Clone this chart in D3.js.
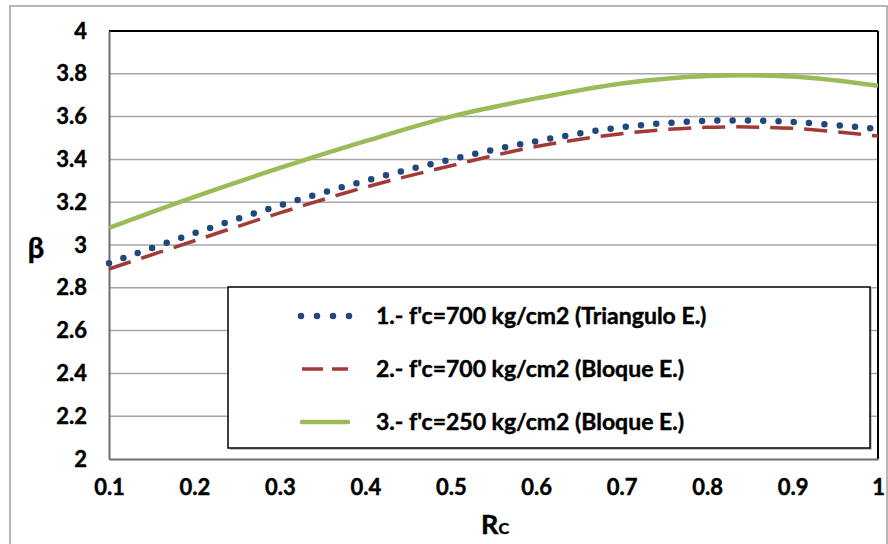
<!DOCTYPE html>
<html><head><meta charset="utf-8">
<script src="https://cdn.jsdelivr.net/npm/d3@7"></script>
<style>body{margin:0;background:#fff;} svg{display:block;} text{stroke:#000;stroke-width:0.45px;paint-order:stroke;}</style>
</head><body>
<script>
const rc = [0.1,0.2,0.3,0.4,0.5,0.6,0.7,0.8,0.9,1.0];
const beta1 = [2.915,3.055,3.185,3.30,3.40,3.485,3.55,3.58,3.575,3.542];
const beta2 = [2.888,3.02,3.15,3.27,3.37,3.46,3.52,3.55,3.545,3.509];
const beta3 = [3.08,3.225,3.36,3.485,3.60,3.685,3.755,3.79,3.787,3.744];
const seriesNames = ["1.- f'c=700 kg/cm2 (Triangulo E.)","2.- f'c=700 kg/cm2 (Bloque E.)","3.- f'c=250 kg/cm2 (Bloque E.)"];
const xTicks = [0.1,0.2,0.3,0.4,0.5,0.6,0.7,0.8,0.9,1];
const yTicks = [2,2.2,2.4,2.6,2.8,3,3.2,3.4,3.6,3.8,4];

const W=888,H=544;
const L=109,R=878,T=31,B=459;
const svg=d3.select("body").append("svg").attr("width",W).attr("height",H);
const font="Lato, 'Open Sans', sans-serif";

svg.append("rect").attr("x",10).attr("y",6).attr("width",877).attr("height",560)
  .attr("fill","#fff").attr("stroke","#a0a0a0").attr("stroke-width",1.5);

const x=d3.scaleLinear().domain([0.1,1]).range([L,R]);
const y=d3.scaleLinear().domain([2,4]).range([B,T]);

// grid
svg.append("g").selectAll("line").data(yTicks.filter(v=>v>2&&v<4)).join("line")
  .attr("x1",L).attr("x2",R).attr("y1",d=>y(d)).attr("y2",d=>y(d))
  .attr("stroke","#a6a6a6").attr("stroke-width",1.5);

// plot border
svg.append("line").attr("x1",L).attr("x2",R).attr("y1",T).attr("y2",T).attr("stroke","#000").attr("stroke-width",2);
svg.append("line").attr("x1",R).attr("x2",R).attr("y1",T).attr("y2",B).attr("stroke","#000").attr("stroke-width",2);

// axes
const yAxis=d3.axisLeft(y).tickValues(yTicks).tickSize(0).tickPadding(22).tickFormat(d3.format("~g"));
const xAxis=d3.axisBottom(x).tickValues(xTicks).tickSize(0).tickPadding(20).tickFormat(d3.format("~g"));
const gy=svg.append("g").attr("transform",`translate(${L},0)`).call(yAxis);
const gx=svg.append("g").attr("transform",`translate(0,${B})`).call(xAxis);
[gx,gy].forEach(g=>{
  g.select(".domain").attr("stroke","#6e6e6e").attr("stroke-width",2);
  g.selectAll("text").attr("font-family",font).attr("font-weight","bold").attr("font-size",22).attr("fill","#000");
});

// lines
const line=(arr)=>d3.line().x((d,i)=>x(rc[i])).y(d=>y(d)).curve(d3.curveCatmullRom.alpha(0.5))(arr);
svg.append("path").attr("d",line(beta3)).attr("fill","none").attr("stroke","#9BBB59").attr("stroke-width",4.5);
svg.append("path").attr("d",line(beta2)).attr("fill","none").attr("stroke","#A33A37").attr("stroke-width",3.5)
  .attr("stroke-dasharray","23,11");
svg.append("path").attr("d",line(beta1)).attr("fill","none").attr("stroke","#1F497D").attr("stroke-width",6.5)
  .attr("stroke-linecap","round").attr("stroke-dasharray","0,15.3");

// axis titles
svg.append("text").attr("x",36).attr("y",258).attr("text-anchor","middle").attr("font-family",font)
  .attr("font-weight","bold").attr("font-size",29).text("β");
const rt=svg.append("text").attr("x",481).attr("y",534).attr("font-family",font).attr("font-weight","bold");
rt.append("tspan").attr("font-size",27).text("R");
rt.append("tspan").attr("font-size",16).text("C");

// legend
const lg=svg.append("g");
lg.append("rect").attr("x",230).attr("y",289).attr("width",642).attr("height",161).attr("fill","#a0a0a0").attr("opacity",0.6);
lg.append("rect").attr("x",228).attr("y",287).attr("width",642).attr("height",161).attr("fill","#fff").attr("stroke","#000").attr("stroke-width",1.5);
const rowsY=[316,369,422];
const styles=[
  {stroke:"#1F497D",w:6.5,dash:"0,16",cap:"round"},
  {stroke:"#A33A37",w:3.5,dash:"21,9",cap:"butt"},
  {stroke:"#9BBB59",w:4.5,dash:null,cap:"round"}];
seriesNames.forEach((nm,i)=>{
  const s=styles[i];
  const ln=lg.append("line").attr("x1",i==0?301:302).attr("x2",i==0?350:348).attr("y1",rowsY[i]).attr("y2",rowsY[i])
    .attr("stroke",s.stroke).attr("stroke-width",s.w).attr("stroke-linecap",s.cap);
  if(s.dash) ln.attr("stroke-dasharray",s.dash);
  lg.append("text").attr("x",376).attr("y",rowsY[i]).attr("dy","0.35em").attr("font-family",font)
    .attr("font-weight","bold").attr("font-size",23).text(nm);
});
</script>
</body></html>
